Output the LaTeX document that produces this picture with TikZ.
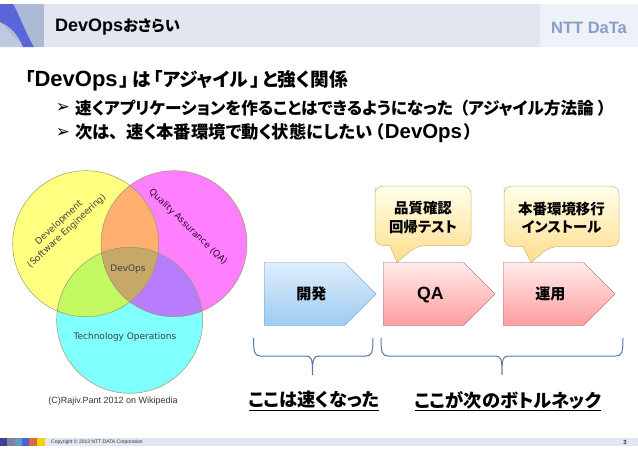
\documentclass[tikz,border=0pt]{standalone}
\usepackage{fontspec}
\setmainfont{Liberation Sans}
\newfontfamily\jpfont[Scale=0.85,RawFeature=+palt]{Noto Sans CJK JP}
\newfontfamily\symfont{DejaVu Sans}
\usetikzlibrary{arrows.meta,positioning,calc,shapes.symbols}
\definecolor{ntband}{HTML}{E1E6F1}
\definecolor{ntpale}{HTML}{EEF1F8}
\definecolor{ntlogo}{HTML}{8A9DC4}
\definecolor{ntbrace}{HTML}{5B78AC}
\definecolor{vennyellow}{HTML}{FFFF80}
\definecolor{vennpink}{HTML}{FF80FF}
\definecolor{venncyan}{HTML}{80FFFF}
\definecolor{vennorange}{HTML}{FFB070}
\definecolor{venngreen}{HTML}{C4F860}
\definecolor{vennviolet}{HTML}{B87CFF}
\definecolor{venntan}{HTML}{C8A868}
\definecolor{stepblue}{HTML}{9DCBF0}
\definecolor{stepbluetop}{HTML}{DFEEFC}
\definecolor{stepline}{HTML}{5B9BD5}
\newcommand{\jp}[1]{{\jpfont #1}}
\newcommand{\stepbrace}[3]{%
  \draw[bracket] (#1,338) .. controls (#1,352) and (#1+1,356) .. (#1+7,356) -- (#2-7,356)
    .. controls (#2-1,356) and (#2,358) .. (#2,375)
    .. controls (#2,358) and (#2+1,356) .. (#2+7,356) -- (#3-7,356)
    .. controls (#3-1,356) and (#3,352) .. (#3,338);}
\tikzset{
  headText/.style={font=\bfseries, inner sep=0pt, anchor=west},
  vennLine/.style={draw=black!45!olive!60, line width=0.5pt},
  vennLabel/.style={font=\symfont\fontsize{9}{11.5}\selectfont, text=black!75, align=center, inner sep=0pt},
  blueStep/.style={signal, signal to=east, signal pointer angle=90, anchor=west, draw=stepline, top color=stepbluetop, bottom color=stepblue, minimum width=112pt, minimum height=63pt, inner sep=0pt, text height=12pt, text depth=2pt, font=\fontsize{17.7}{19}\selectfont\bfseries},
  redStep/.style={blueStep, draw=red!40!black!60, top color=red!8!white, bottom color=red!38!white},
  noteBubble/.style={draw=yellow!60!black!70, top color=yellow!8!white, bottom color=yellow!40!orange!45!white, line width=0.5pt},
  noteLabel/.style={font=\fontsize{17}{18.5}\selectfont\bfseries, align=center, inner sep=0pt},
  bracket/.style={draw=ntbrace, line width=1pt},
  bigNote/.style={font=\fontsize{21.5}{23}\selectfont\bfseries, inner sep=0pt}
}
\begin{document}
\begin{tikzpicture}[x=1pt,y=-1pt]
  \useasboundingbox (0,0) rectangle (638,451);
  % header
  \fill[ntband] (44,4) rectangle (540,47);
  \fill[ntpale] (540,4) rectangle (638,47);
  \fill[ntlogo!70!white] (0,4) rectangle (44,47);
  \fill[ntlogo!55!white] (0,22) -- (24,47) -- (0,47) -- cycle;
  \fill[blue!35!ntlogo] (0,4) -- (13,4) .. controls (20,16) and (24,30) .. (34,47) -- (23,47) .. controls (18,34) and (10,26) .. (0,22) -- cycle;
  \node[headText, font=\fontsize{18}{20}\selectfont\bfseries] (title) at (55,27) {DevOps\jp{おさらい}};
  \node[font=\fontsize{16.5}{18}\selectfont\bfseries, text=ntlogo, inner sep=0pt] (logo) at (589,27.5) {NTT DaTa};
  % text lines
  \node[headText, font=\fontsize{22}{24}\selectfont\bfseries] (lead) at (25,81) {\jp{「}DevOps\hspace{2pt}\jp{」}\hspace{3pt}\jp{は}\hspace{3pt}\jp{「アジャイル}\hspace{3pt}\jp{」}\hspace{2pt}\jp{と強く関係}};
  \node[headText, font=\fontsize{19.6}{22}\selectfont\bfseries] (lineA) at (75,108) {\jp{速くアプリケーションを作ることはできるようになった}\hspace{7pt}\jp{（アジャイル方法論}\hspace{4pt}\jp{）}};
  \node[headText, font=\fontsize{20.4}{22}\selectfont\bfseries] (lineB) at (75,133) {\jp{次は、}\hspace{8pt}\jp{速く本番環境で動く状態にしたい}\hspace{3pt}\jp{（}\hspace{1pt}DevOps\hspace{2pt}\jp{）}};
  \node[font=\symfont\fontsize{17}{19}\selectfont, inner sep=0pt] (markA) at (63,108) {➢};
  \node[font=\symfont\fontsize{17}{19}\selectfont, inner sep=0pt] (markB) at (63,133) {➢};
  % venn
  \fill[vennyellow] (85.7,243.7) circle (73);
  \fill[vennpink] (174,243.7) circle (73);
  \fill[venncyan] (129.7,320.3) circle (73);
  \begin{scope}
    \clip (85.7,243.7) circle (73);
    \fill[vennorange] (174,243.7) circle (73);
    \fill[venngreen] (129.7,320.3) circle (73);
    \clip (174,243.7) circle (73);
    \fill[venntan] (129.7,320.3) circle (73);
  \end{scope}
  \begin{scope}
    \clip (174,243.7) circle (73);
    \fill[vennviolet] (129.7,320.3) circle (73);
    \clip (85.7,243.7) circle (73);
    \fill[venntan] (129.7,320.3) circle (73);
  \end{scope}
  \draw[vennLine] (85.7,243.7) circle (73);
  \draw[vennLine] (174,243.7) circle (73);
  \draw[vennLine] (129.7,320.3) circle (73);
  \node[vennLabel, rotate=43] (devel) at (63,227) {Development\\(Software Engineering)};
  \node[vennLabel, rotate=-44, text=black!60!violet] (quality) at (188,227) {Quality Assurance (QA)};
  \node[vennLabel] (devops) at (128,269) {DevOps};
  \node[vennLabel] (techop) at (125,337) {Technology Operations};
  \node[font=\fontsize{9}{10}\selectfont, text=black!80, inner sep=0pt] (credit) at (113,401) {(C)Rajiv.Pant 2012 on Wikipedia};
  % steps
  \node[blueStep] (dev) at (264,294) {\hspace*{14pt}\jp{開発}};
  \node[redStep] (qa) at (383,294) {\hspace*{14pt}QA};
  \node[redStep] (ops) at (503,294) {\hspace*{14pt}\jp{運用}};
  % callouts
  \draw[noteBubble] (375,195) [rounded corners=8pt] -- (375,186) -- (471,186) -- (471,245.5) -- (417,245.5) [sharp corners] -- (397,262.5) -- (390,245.5) [rounded corners=8pt] -- (375,245.5) -- cycle;
  \draw[noteBubble] (504,195) [rounded corners=8pt] -- (504,186) -- (619,186) -- (619,246.5) -- (550,246.5) [sharp corners] -- (531,262.5) -- (523,246.5) [rounded corners=8pt] -- (504,246.5) -- cycle;
  \node[noteLabel] (noteQa) at (423,217.5) {\jp{品質確認}\\\jp{回帰テスト}};
  \node[noteLabel] (noteOps) at (561.5,217.5) {\jp{本番環境移行}\\\jp{インストール}};
  % braces
  \stepbrace{253.5}{312.5}{373}
  \stepbrace{381}{502}{623}
  \node[bigNote] (fast) at (314,401) {\jp{\underline{ここは速くなった}}};
  \node[bigNote] (neck) at (508,401) {\jp{\underline{ここが次のボトルネック}}};
  % footer
  \fill[ntband] (44,438) rectangle (638,446);
  \foreach \x/\c in {0/blue!45!black!75,7/blue!25!black!50,15/cyan!65!black!80,22/ntlogo!60!blue,29/red!45!orange!80!black!75,37/yellow!70!orange} {
    \fill[\c] (\x,438) rectangle ++(7.5,8);
  }
  \node[font=\fontsize{5}{6}\selectfont, text=black!80, inner sep=0pt, anchor=west] (copyr) at (51,442) {Copyright © 2013 NTT DATA Corporation};
  \node[font=\fontsize{6}{7}\selectfont\bfseries, text=black!80, inner sep=0pt] (pageno) at (625,442) {3};
\end{tikzpicture}
\end{document}
